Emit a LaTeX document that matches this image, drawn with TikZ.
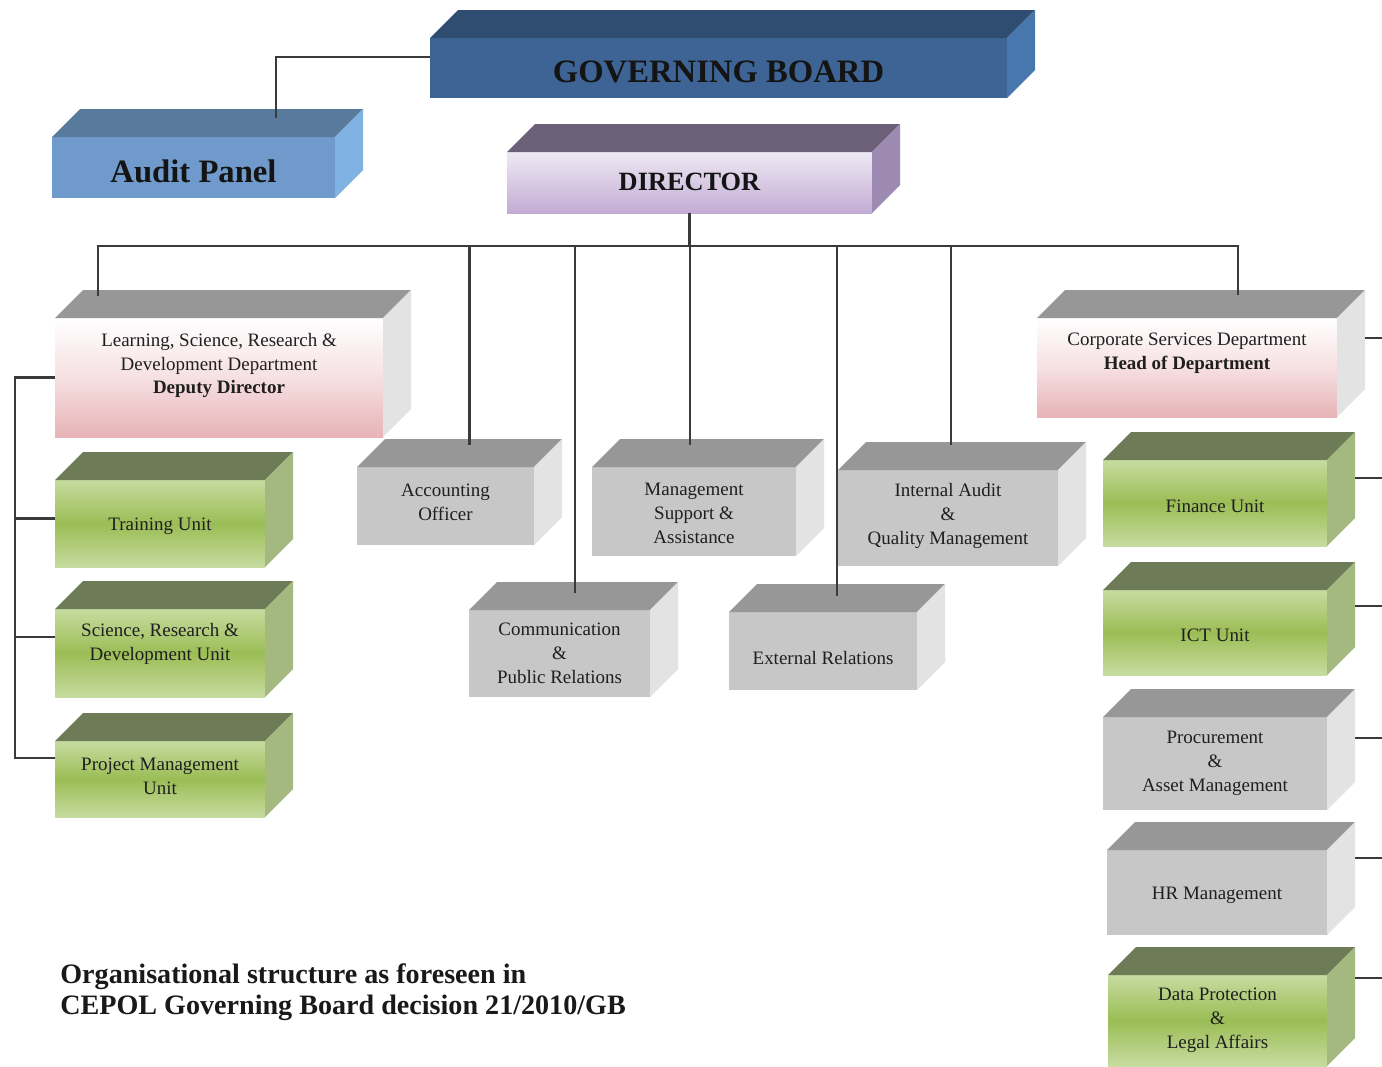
\documentclass[tikz,border=0pt]{standalone}
\usepackage{fontspec}
\setmainfont{Liberation Serif}
\usetikzlibrary{calc,fit}
\definecolor{lineC}{HTML}{3A3A3A}
\definecolor{gbF}{HTML}{3D6494}
\definecolor{gbT}{HTML}{2F4D70}
\definecolor{gbS}{HTML}{4777AD}
\definecolor{apF}{HTML}{6F9ACB}
\definecolor{apT}{HTML}{587A9C}
\definecolor{apS}{HTML}{7FB1E2}
\definecolor{dirF1}{HTML}{EEE9F3}
\definecolor{dirF2}{HTML}{C3ACD4}
\definecolor{dirT}{HTML}{6C5F78}
\definecolor{dirS}{HTML}{9D8AB3}
\definecolor{pkF}{HTML}{E7B3B6}
\definecolor{pkM}{HTML}{F6E0E2}
\definecolor{gyF}{HTML}{C7C7C7}
\definecolor{gyT}{HTML}{979797}
\definecolor{gyS}{HTML}{E3E3E3}
\definecolor{grF1}{HTML}{C6DCA0}
\definecolor{grF2}{HTML}{9BBD55}
\definecolor{grT}{HTML}{6D7B56}
\definecolor{grS}{HTML}{A4B97F}
\tikzset{
  conn/.style={draw=lineC, line width=1.4pt},
  boxtext/.style={font=\fontsize{10.8}{13.6}\selectfont, align=center, text=black!88, inner sep=0pt},
  allfront/.style={inner sep=0pt, outer sep=0pt, draw=none},
  gbfront/.style={allfront, fill=gbF}, gbtop/.style={fill=gbT}, gbside/.style={fill=gbS},
  apfront/.style={allfront, fill=apF}, aptop/.style={fill=apT}, apside/.style={fill=apS},
  dirfront/.style={allfront, top color=dirF1, bottom color=dirF2}, dirtop/.style={fill=dirT}, dirside/.style={fill=dirS},
  pinkfront/.style={allfront, top color=white, bottom color=pkF, middle color=pkM}, pinktop/.style={fill=gyT}, pinkside/.style={fill=gyS},
  grayfront/.style={allfront, fill=gyF}, graytop/.style={fill=gyT}, grayside/.style={fill=gyS},
  greenfront/.style={allfront, top color=grF1, bottom color=grF1, middle color=grF2}, greentop/.style={fill=grT}, greenside/.style={fill=grS},
  gbtext/.style={font=\fontsize{18.6}{20}\selectfont\bfseries, text=black!92},
  aptext/.style={font=\fontsize{18.6}{20}\selectfont\bfseries, text=black!92},
  dirtext/.style={font=\fontsize{15}{16}\selectfont\bfseries, text=black!92},
  plain/.style={}
}
% #1 name, #2 (x1,y1), #3 (x2,y2), #4 kind, #5 text y offset, #6 text style, #7 text
\newcommand\ocbox[7]{%
  \node[#4front, fit={#2 #3}] (#1) {};
  \fill[#4top] (#1.north west) -- ++(28,-28) -- ($(#1.north east)+(28,-28)$) -- (#1.north east) -- cycle;
  \fill[#4side] (#1.north east) -- ++(28,-28) -- ($(#1.south east)+(28,-28)$) -- (#1.south east) -- cycle;
  \node[boxtext, #6] (#1-t) at ($(#1.center)+(0,#5)$) {#7};
}
\begin{document}
\begin{tikzpicture}[x=0.02cm, y=-0.02cm]
\path[use as bounding box, fill=white] (0,0) rectangle (1382,1066);

\ocbox{gb}{(430,38)}{(1007,98)}{gb}{4}{gbtext}{GOVERNING BOARD}
\ocbox{ap}{(52,137)}{(335,198)}{ap}{4}{aptext}{Audit Panel}
\ocbox{dir}{(507,152)}{(872,213)}{dir}{-1}{dirtext}{DIRECTOR}
\ocbox{lrn}{(55,318)}{(383,437)}{pink}{-12}{plain}{Learning, Science, Research \&\\Development Department\\\textbf{Deputy Director}}
\ocbox{csd}{(1037,318)}{(1337,417)}{pink}{-14}{plain}{Corporate Services Department\\\textbf{Head of Department}}
\ocbox{trn}{(55,480)}{(265,567)}{green}{3}{plain}{Training Unit}
\ocbox{sci}{(55,609)}{(265,697)}{green}{-9}{plain}{Science, Research \&\\Development Unit}
\ocbox{prj}{(55,741)}{(265,817)}{green}{-3}{plain}{Project Management\\Unit}
\ocbox{acc}{(357,467)}{(534,545)}{gray}{-4}{plain}{Accounting\\Officer}
\ocbox{mgt}{(592,467)}{(796,556)}{gray}{2}{plain}{Management\\Support \&\\Assistance}
\ocbox{ia}{(838,470)}{(1058,566)}{gray}{-2}{plain}{Internal Audit\\\&\\Quality Management}
\ocbox{com}{(469,610)}{(650,697)}{gray}{0}{plain}{Communication\\\&\\Public Relations}
\ocbox{ext}{(729,612)}{(917,690)}{gray}{7}{plain}{External Relations}
\ocbox{fin}{(1103,460)}{(1327,546)}{green}{3}{plain}{Finance Unit}
\ocbox{ict}{(1103,590)}{(1327,675)}{green}{3}{plain}{ICT Unit}
\ocbox{prc}{(1103,717)}{(1327,810)}{gray}{0}{plain}{Procurement\\\&\\Asset Management}
\ocbox{hr}{(1107,850)}{(1327,935)}{gray}{3}{plain}{HR Management}
\ocbox{dp}{(1108,975)}{(1327,1066)}{green}{0}{plain}{Data Protection\\\&\\Legal Affairs}

% connectors
\coordinate (bus) at (0,246);
\draw[conn] ($(gb.west)+(0,-11)$) -| ($(ap.north)+(82.5,-19)$);
\draw[conn] ($(lrn.north)+(-121,-22)$) |- (dir.south |- bus) -| ($(csd.north)+(51,-23)$);
\draw[conn] (dir.south) -- (dir.south |- bus);
\foreach \n/\dx/\dy in {acc/24/-22, mgt/-4/-22, ia/3/-25, com/15.5/-17, ext/14/-16}
  \draw[conn] ($(\n.north)+(\dx,\dy)$) coordinate (drop) -- (drop |- bus);
\draw[conn] (lrn.west) -- ++(-40,0) |- ($(prj.west)+(0,-21)$);
\foreach \n/\dy in {trn/-5, sci/-16}
  \draw[conn] ($(\n.west)+(0,\dy)$) -- ++(-40,0);
\draw[conn] ($(csd.east)+(28,-29.5)$) -- ++(18,0);
\foreach \n/\dy in {fin/-25, ict/-26.5, prc/-25.5, hr/-34.5, dp/-42.5}
  \draw[conn] ($(\n.east)+(28,\dy)$) -- ++(28,0);

\node[anchor=west, align=left, font=\fontsize{16}{18}\selectfont\bfseries, text=black!90, inner sep=0pt] (cap) at (60,992)
  {Organisational structure as foreseen in\\CEPOL Governing Board decision 21/2010/GB};
\end{tikzpicture}
\end{document}
